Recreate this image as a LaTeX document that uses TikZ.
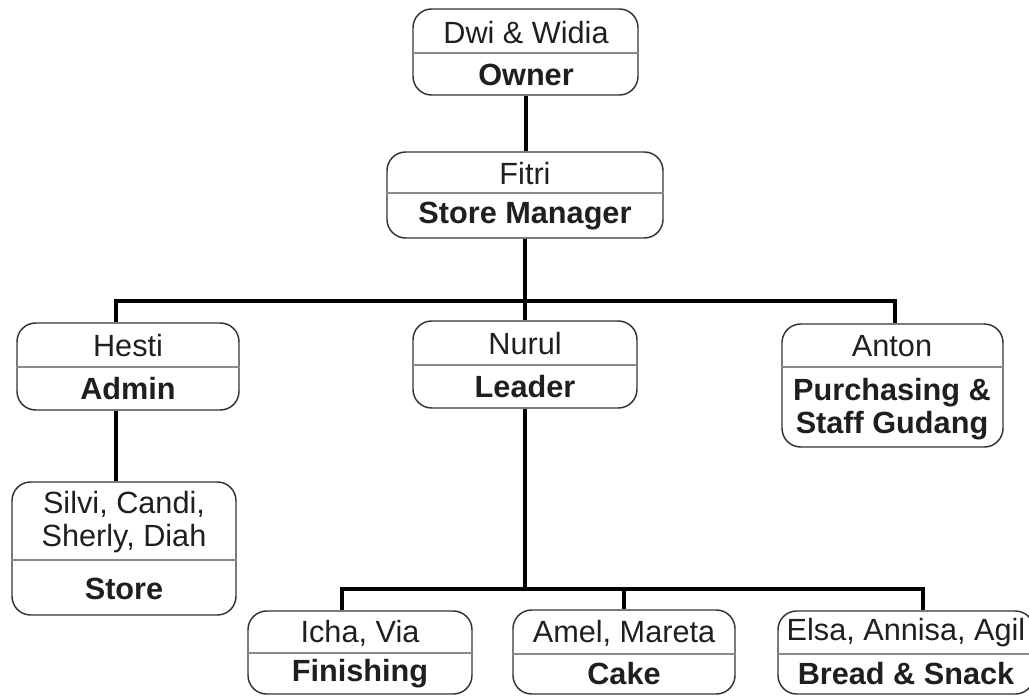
\documentclass[tikz,border=0pt]{standalone}
\usepackage{fontspec}
\setmainfont{Liberation Sans}
\usetikzlibrary{fit}
\definecolor{boxline}{HTML}{333333}
\definecolor{divline}{HTML}{8A8A8A}
\tikzset{
  orgbox/.style={draw=boxline, line width=1.1pt, rounded corners=14pt, inner sep=0pt},
  divider/.style={draw=divline, line width=0.8pt},
  link/.style={draw=black, line width=2.5pt},
  who/.style={font=\fontsize{23}{25}\selectfont, align=center, text=black!88},
  role/.style={font=\fontsize{23}{25}\selectfont\bfseries, align=center, text=black!88},
}
\begin{document}
\begin{tikzpicture}[x=0.75pt, y=-0.75pt]
\useasboundingbox (0,0) rectangle (1029,696);
% boxes
\node[orgbox, fit={(413,9) (638,95)}] (owner) {};
\node[orgbox, fit={(387,152) (663,238)}] (fitri) {};
\node[orgbox, fit={(17,323) (239,410)}] (hesti) {};
\node[orgbox, fit={(413,321) (637,408)}] (nurul) {};
\node[orgbox, fit={(782,324) (1003,447)}] (anton) {};
\node[orgbox, fit={(12,482) (236,615)}] (silvi) {};
\node[orgbox, fit={(248,611) (472,694)}] (finish) {};
\node[orgbox, fit={(513,610) (735,694)}] (cake) {};
\node[orgbox, fit={(778,611) (1034,694)}] (bread) {};
% dividers
\draw[divider] (owner.west |- 0,53) -- (owner.east |- 0,53);
\draw[divider] (fitri.west |- 0,193) -- (fitri.east |- 0,193);
\draw[divider] (hesti.west |- 0,367) -- (hesti.east |- 0,367);
\draw[divider] (nurul.west |- 0,365) -- (nurul.east |- 0,365);
\draw[divider] (anton.west |- 0,367) -- (anton.east |- 0,367);
\draw[divider] (silvi.west |- 0,560) -- (silvi.east |- 0,560);
\draw[divider] (finish.west |- 0,653) -- (finish.east |- 0,653);
\draw[divider] (cake.west |- 0,654) -- (cake.east |- 0,654);
\draw[divider] (bread.west |- 0,654) -- (bread.east |- 0,654);
% texts
\node[who] (t1) at (526,33) {Dwi \& Widia};
\node[role] (r1) at (526,75) {Owner};
\node[who] (t2) at (525,174) {Fitri};
\node[role] (r2) at (525,216) {Store Manager};
\node[who] (t3) at (128,346) {Hesti};
\node[role] (r3) at (128,389) {Admin};
\node[who] (t4) at (525,344) {Nurul};
\node[role] (r4) at (525,387) {Leader};
\node[who] (t5) at (892,346) {Anton};
\node[role] (r5) at (892,409) {Purchasing \&\\Staff Gudang};
\node[who] (t6) at (124,522) {Silvi, Candi,\\Sherly, Diah};
\node[role] (r6) at (124,589) {Store};
\node[who] (t7) at (360,633) {Icha, Via};
\node[role] (r7) at (360,674) {Finishing};
\node[who] (t8) at (624,633) {Amel, Mareta};
\node[role] (r8) at (624,674) {Cake};
\node[who] (t9) at (906,633) {Elsa, Annisa, Agil};
\node[role] (r9) at (906,674) {Bread \& Snack};
% connectors
\coordinate (j1) at (525,301);
\coordinate (j2) at (525,589);
\draw[link] (owner.south -| 526,0) -- (fitri.north -| 526,0);
\draw[link] (fitri.south -| 525,0) -- (j1);
\draw[link] (hesti.north -| 116,0) |- (j1) -| (anton.north -| 895,0);
\draw[link] (j1) -- (nurul.north -| j1);
\draw[link] (hesti.south -| 116,0) -- (silvi.north -| 116,0);
\draw[link] (nurul.south -| j2) -- (j2);
\draw[link] (finish.north -| 342,0) |- (j2) -| (bread.north -| 923,0);
\draw[link] (j2) -| (cake.north -| 624,0);
\end{tikzpicture}
\end{document}
